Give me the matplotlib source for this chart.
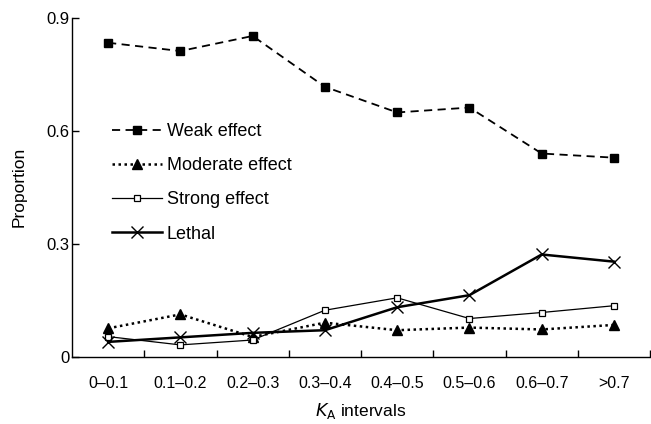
import matplotlib
matplotlib.use("Agg")
import matplotlib.pyplot as plt

plt.rcParams['font.family'] = ['Liberation Sans', 'DejaVu Sans']

categories = ["0\u20130.1", "0.1\u20130.2", "0.2\u20130.3", "0.3\u20130.4",
              "0.4\u20130.5", "0.5\u20130.6", "0.6\u20130.7", ">0.7"]
weak = [0.833, 0.811, 0.851, 0.716, 0.648, 0.661, 0.539, 0.528]
moderate = [0.075, 0.112, 0.052, 0.090, 0.070, 0.077, 0.072, 0.084]
strong = [0.053, 0.031, 0.044, 0.123, 0.156, 0.101, 0.117, 0.135]
lethal = [0.039, 0.051, 0.063, 0.070, 0.131, 0.163, 0.271, 0.252]
yticks = [0, 0.3, 0.6, 0.9]
ytick_labels = ["0", "0.3", "0.6", "0.9"]

fig = plt.figure(figsize=(6.51, 4.24), dpi=100)
ax = fig.add_axes([0.1106, 0.159, 0.888, 0.7997])
x = list(range(len(categories)))

ax.plot(x, weak, color='black', lw=1.3, dashes=(4.5, 3), marker='s',
        ms=5.5, mfc='black', mec='black', label='Weak effect')
ax.plot(x, moderate, color='black', lw=1.8, dashes=(1, 1.4), marker='^',
        ms=6.5, mfc='black', mec='black', label='Moderate effect')
ax.plot(x, strong, color='black', lw=0.9, marker='s', ms=5,
        mfc='white', mec='black', mew=0.9, label='Strong effect')
ax.plot(x, lethal, color='black', lw=1.8, marker='x', ms=9, mew=1.0,
        label='Lethal')

ax.set_xlim(-0.5, len(categories) - 0.5)
ax.set_ylim(0, 0.9)
ax.set_yticks(yticks)
ax.set_yticklabels(ytick_labels)
ax.set_xticks([i + 0.5 for i in range(len(categories) - 1)] + [len(categories) - 0.5])
ax.set_xticklabels([])
ax.set_xticks(x, minor=True)
ax.set_xticklabels(categories, minor=True)
ax.tick_params(axis='x', which='major', direction='in', length=5, width=1)
ax.tick_params(axis='x', which='minor', length=0, pad=14, labelsize=11.5)
ax.tick_params(axis='y', direction='in', length=5, width=1, labelsize=12, pad=2)

for s in ['top', 'right']:
    ax.spines[s].set_visible(False)
for s in ['left', 'bottom']:
    ax.spines[s].set_linewidth(1.0)

ax.set_ylabel('Proportion', fontsize=12.5, labelpad=14)
ax.set_xlabel(r'$K_{\mathrm{A}}$ intervals', fontsize=12.5, labelpad=7)

leg = ax.legend(loc='upper left', bbox_to_anchor=(0.054, 0.715), frameon=False,
                fontsize=13, handlelength=2.75, handletextpad=0.28,
                labelspacing=0.95, borderpad=0)

fig.savefig('out.png', dpi=100)
